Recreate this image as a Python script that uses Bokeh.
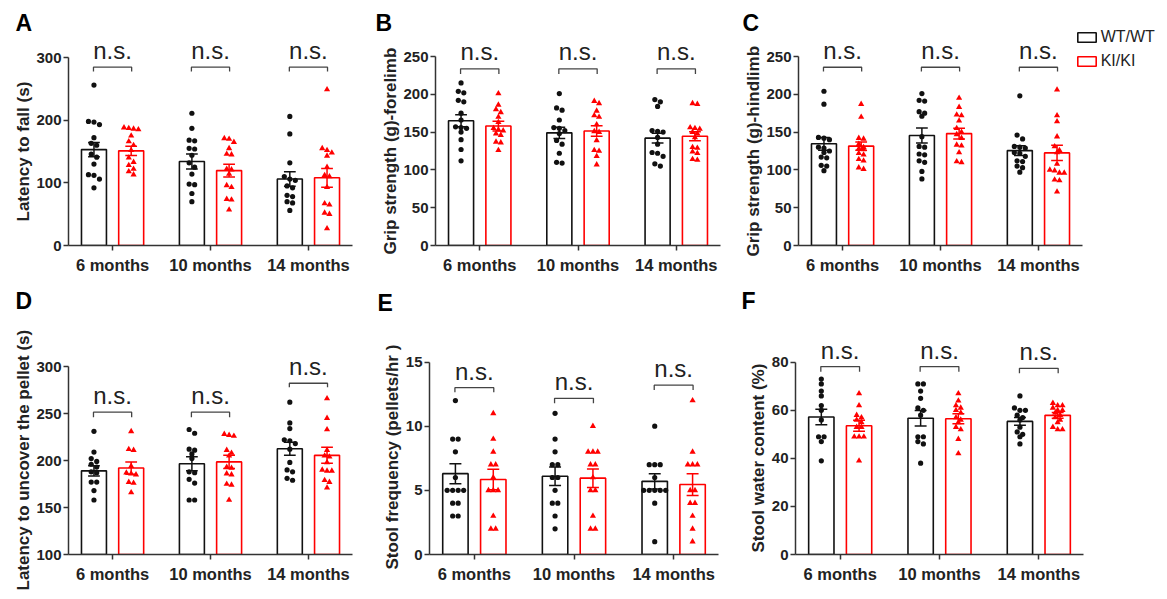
import numpy as np
from bokeh.plotting import figure
from bokeh.layouts import row, column
from bokeh.models import FixedTicker, Label, Legend, LegendItem, Range1d, Title
from bokeh.embed import file_html
from bokeh.resources import INLINE

# ---------------- data ----------------
groups = ["6 months", "10 months", "14 months"]
genotypes = ["WT/WT", "KI/KI"]

# A  Latency to fall (s)
a_ylabel = "Latency to fall (s)"
a_ticks = [0, 100, 200, 300]
a_wt = [[256, 198, 197, 193, 172, 163, 160, 146, 141, 130, 113, 112, 106, 92],
        [211, 187, 168, 167, 155, 154, 144, 132, 125, 114, 98, 97, 83, 70],
        [206, 178, 132, 110, 106, 104, 95, 92, 80, 78, 70, 68, 56]]
a_ki = [[188, 187, 186, 185, 175, 166, 160, 152, 140, 133, 128, 122, 118, 113],
        [171, 170, 165, 155, 146, 145, 122, 121, 114, 96, 93, 74, 73, 57],
        [249, 155, 152, 148, 143, 125, 112, 110, 93, 67, 65, 52, 50, 27]]
a_wt_mean = [153, 134, 106]
a_wt_sem = [11.5, 12, 11.5]
a_ki_mean = [151, 119.5, 108]
a_ki_sem = [7.5, 10, 15]

# B  Grip strength forelimb
b_ylabel = "Grip strength (g)-forelimb"
b_ticks = [0, 50, 100, 150, 200, 250]
b_wt = [[215, 204, 202, 192, 190, 175, 166, 157, 156, 155, 150, 140, 127, 112],
        [201, 182, 179, 166, 156, 155, 152, 148, 139, 134, 122, 110, 109],
        [193, 190, 184, 152, 151, 150, 143, 134, 123, 122, 118, 108, 105]]
b_ki = [[201, 186, 180, 176, 170, 163, 155, 153, 152, 148, 146, 137, 136, 126],
        [191, 188, 178, 172, 170, 160, 151, 150, 139, 126, 125, 118, 107],
        [188, 187, 156, 155, 154, 150, 148, 143, 130, 129, 124, 122, 114, 113]]
b_wt_mean = [165, 149, 142]
b_wt_sem = [8, 7.5, 6.5]
b_ki_mean = [158, 151.5, 144.5]
b_ki_sem = [6.5, 7, 6]

# C  Grip strength hindlimb
c_ylabel = "Grip strength (g)-hindlimb"
c_ticks = [0, 50, 100, 150, 200, 250]
c_wt = [[204, 187, 143, 142, 140, 130, 129, 125, 123, 117, 116, 106, 105, 99],
        [201, 192, 191, 177, 175, 171, 144, 131, 130, 121, 120, 112, 110, 98, 88],
        [198, 146, 141, 131, 130, 129, 123, 122, 118, 112, 111, 105, 103, 97]]
c_ki = [[187, 170, 142, 141, 134, 130, 128, 127, 122, 120, 114, 112, 103, 101],
        [195, 183, 173, 172, 165, 155, 150, 147, 142, 133, 132, 123, 111, 110],
        [206, 172, 164, 144, 131, 126, 123, 108, 100, 99, 96, 96, 87, 86, 71]]
c_wt_mean = [134.5, 145.5, 125.5]
c_wt_sem = [8.5, 10, 6.5]
c_ki_mean = [131.5, 148, 122.5]
c_ki_sem = [5.5, 7, 10]

# D  Latency to uncover the pellet (s)
d_ylabel = "Latency to uncover the pellet (s)"
d_ticks = [100, 150, 200, 250, 300]
d_wt = [[231, 209, 202, 199, 196, 193, 188, 187, 177, 177, 168, 158],
        [233, 229, 212, 211, 207, 202, 188, 187, 180, 176, 158, 158],
        [262, 240, 234, 222, 221, 218, 212, 198, 190, 188, 181, 179]]
d_ki = [[231, 212, 211, 194, 187, 186, 185, 177, 176, 166],
        [228, 227, 226, 211, 208, 205, 193, 192, 186, 185, 175, 174, 158],
        [266, 245, 233, 211, 205, 204, 198, 190, 189, 189, 179, 177, 171]]
d_wt_mean = [189, 196.5, 212.5]
d_wt_sem = [5.5, 7.5, 7]
d_ki_mean = [192, 198.5, 205.5]
d_ki_sem = [6.5, 7, 8.5]

# E  Stool frequency
e_ylabel = "Stool frequency (pellets/hr )"
e_ticks = [0, 5, 10, 15]
e_wt = [[12, 9, 9, 8, 6, 5, 5, 5, 5, 4, 4, 3, 3],
        [11, 9, 8, 7, 7, 6, 6, 5, 4, 4, 3, 2],
        [10, 7, 7, 7, 6, 5, 5, 5, 5, 5, 4, 1]]
e_ki = [[11, 9, 8, 7, 7, 6, 5, 5, 5, 3, 2, 2],
        [10, 8, 8, 8, 7, 7, 6, 5, 5, 3, 2, 2],
        [12, 8, 7, 7, 7, 5, 5, 4, 4, 3, 2, 1]]
e_wt_mean = [6.3, 6.1, 5.7]
e_wt_sem = [0.78, 0.72, 0.6]
e_ki_mean = [5.85, 5.95, 5.45]
e_ki_sem = [0.8, 0.72, 0.85]

# F  Stool water content (%)
f_ylabel = "Stool water content (%)"
f_ticks = [0, 20, 40, 60, 80]
f_wt = [[73, 71, 68, 66, 62, 60, 56, 49, 49, 47, 39],
        [71, 71, 68, 65, 61, 60, 58, 49, 49, 47, 46, 38],
        [66, 61, 60, 60, 58, 57, 56, 53, 51, 50, 49, 46]]
f_ki = [[67, 62, 58, 57, 56, 55, 53, 53, 49, 49, 49, 39],
        [67, 64, 62, 61, 60, 59, 57, 56, 55, 53, 52, 48, 42],
        [63, 62, 62, 61, 60, 60, 59, 58, 57, 56, 55, 53, 52, 52]]
f_wt_mean = [57.2, 56.7, 55.4]
f_wt_sem = [3.2, 3.2, 1.6]
f_ki_mean = [53.6, 56.5, 57.9]
f_ki_sem = [2.3, 2.1, 1.2]

# ---------------- style / layout ----------------
FONT = "Liberation Sans"
INK = "#222222"
AXIS = "#333333"
WT_COLOR = "#111111"
KI_COLOR = "#ff0000"
X_START, X_AXIS_END = -0.45, 2.45
BAR_W = 0.255
OFF = 0.19
CAP = 0.06
BR_HALF = 0.195
NS_SIZE = 24          # px
NS_MID = 0.3465 * NS_SIZE  # baseline -> middle of text box

# geometry in page pixels:
# fig (left, right, top, bottom), frame_left, axis_right, frame_top, frame_bottom, axis_top,
# letter x / baseline, y-label start (bottom end), brackets per group (line, tick end, text baseline)
specs = {
    "A": dict(fig=(0, 370, 0, 284), frame_left=68, axis_right=352, frame_top=26, frame_bottom=245,
              axis_top=57, letter=(15, 30), label_start=221,
              brackets=[(284.5, 277.6, 298)] * 3),
    "B": dict(fig=(370, 740, 0, 284), frame_left=435, axis_right=720, frame_top=26, frame_bottom=245,
              axis_top=56, letter=(375, 30), label_start=254,
              brackets=[(233.7, 227, 245.5)] * 3),
    "C": dict(fig=(740, 1165, 0, 284), frame_left=798, axis_right=1082, frame_top=26, frame_bottom=245,
              axis_top=56, letter=(742, 30), label_start=256, legend=True,
              brackets=[(235.8, 230, 247.5)] * 3),
    "D": dict(fig=(0, 370, 284, 591), frame_left=68, axis_right=352, frame_top=305, frame_bottom=554,
              axis_top=366, letter=(15, 308), label_start=590,
              brackets=[(251.4, 246.1, 260.4), (251.4, 246.1, 260.4), (282.2, 278, 291)]),
    "E": dict(fig=(370, 740, 284, 591), frame_left=429, axis_right=718, frame_top=305, frame_bottom=556,
              axis_top=362, letter=(377, 310), label_start=571,
              brackets=[(13.0, 12.64, 13.64), (12.17, 11.79, 12.82), (13.2, 12.82, 13.85)]),
    "F": dict(fig=(740, 1165, 284, 591), frame_left=795, axis_right=1083, frame_top=305, frame_bottom=555,
              axis_top=362, letter=(741, 308), label_start=553,
              brackets=[(78.2, 76.1, 81.6), (78.2, 76.1, 81.6), (77.5, 75.4, 81.2)]),
}
# legend: left edge of glyph area and bottom of the legend block (page pixels)
LEGEND_LEFT, LEGEND_BOTTOM = 1074.7, 70.3


def swarm(vals, py, sx, d_px, thr_px):
    vals = np.asarray(vals, float)
    order = np.argsort(-vals, kind="stable")
    offs = np.zeros(len(vals))
    clusters, cur = [], []
    for i in order:
        if cur and (vals[cur[0]] - vals[i]) * py >= thr_px:
            clusters.append(cur)
            cur = []
        cur.append(i)
    if cur:
        clusters.append(cur)
    for cl in clusters:
        n = len(cl)
        for k, i in enumerate(cl):
            offs[i] = (k - (n - 1) / 2) * d_px / sx
    return offs


def build(letter, ylabel, yticks, wt, ki, wt_mean, wt_sem, ki_mean, ki_sem):
    s = specs[letter]
    fl, fr, ft, fb = s["fig"]
    w, h = fr - fl, fb - ft
    y0, ytop = yticks[0], yticks[-1]
    sx = (s["axis_right"] - s["frame_left"]) / (X_AXIS_END - X_START)
    py = (s["frame_bottom"] - s["axis_top"]) / (ytop - y0)
    border_r = 0 if s.get("legend") else fr - s["axis_right"]
    frame_right = fr - border_r
    x_end = X_START + (frame_right - s["frame_left"]) / sx
    y_end = y0 + (s["frame_bottom"] - s["frame_top"]) / py

    p = figure(width=w, height=h, x_range=Range1d(X_START, x_end), y_range=Range1d(y0, y_end),
               output_backend="svg", toolbar_location=None,
               min_border_left=s["frame_left"] - fl, min_border_right=border_r,
               min_border_top=s["frame_top"] - ft, min_border_bottom=fb - s["frame_bottom"])
    p.outline_line_color = None
    p.xgrid.grid_line_color = None
    p.ygrid.grid_line_color = None

    centers = np.arange(len(groups), dtype=float)
    renderers = []
    for pts, mean, sem, off, color, marker, size, dpx in [
        (wt, wt_mean, wt_sem, -OFF, WT_COLOR, "circle", 5.2, 5.5),
        (ki, ki_mean, ki_sem, OFF, KI_COLOR, "triangle", 6.2, 4.8),
    ]:
        xs = centers + off
        mean = np.asarray(mean, float)
        sem = np.asarray(sem, float)
        r = p.vbar(x=xs, top=mean, bottom=y0, width=BAR_W, fill_color="white",
                   line_color=color, line_width=1.6)
        renderers.append(r)
        p.segment(x0=xs, y0=mean - sem, x1=xs, y1=mean + sem, line_color=color, line_width=1.5)
        p.segment(x0=xs - CAP, y0=mean + sem, x1=xs + CAP, y1=mean + sem, line_color=color, line_width=1.5)
        p.segment(x0=xs - CAP, y0=mean - sem, x1=xs + CAP, y1=mean - sem, line_color=color, line_width=1.5)
        px_all, py_all = [], []
        for g in range(len(groups)):
            vals = np.asarray(pts[g], float)
            dx = swarm(vals, py, sx, dpx, 4.5)
            px_all.extend(xs[g] + dx)
            py_all.extend(vals)
        p.scatter(x=px_all, y=py_all, marker=marker, size=size, fill_color=color, line_color=None)

    # significance brackets
    bxs, bys = [], []
    for g, (yb, yt, ytxt) in enumerate(s["brackets"]):
        bxs.append([g - BR_HALF, g - BR_HALF, g + BR_HALF, g + BR_HALF])
        bys.append([yt, yb, yb, yt])
        p.add_layout(Label(x=g, y=ytxt + NS_MID / py, text="n.s.", text_font=FONT,
                           text_font_size=f"{NS_SIZE}px", text_align="center",
                           text_baseline="middle", text_color=INK))
    p.multi_line(xs=bxs, ys=bys, line_color="#444444", line_width=1.3)

    # panel letter (title above; anchored at its bottom edge)
    lx, lbase = s["letter"]
    p.title.text = letter
    p.title.align = "left"
    p.title.offset = lx - s["frame_left"]
    p.title.vertical_align = "bottom"
    p.title.standoff = 2 * (s["frame_top"] - (lbase + 5))
    p.title.text_font = FONT
    p.title.text_font_size = "23px"
    p.title.text_font_style = "bold"
    p.title.text_color = "black"

    # y label (title on the left side)
    p.add_layout(Title(text=ylabel, align="left", offset=s["frame_bottom"] - s["label_start"],
                       vertical_align="bottom", standoff=2, text_font=FONT, text_font_size="17px",
                       text_font_style="bold", text_color=INK), "left")

    # axes
    for ax in (p.xaxis, p.yaxis):
        ax.axis_line_color = AXIS
        ax.axis_line_width = 1.5
        ax.major_tick_line_color = AXIS
        ax.major_tick_line_width = 1.5
        ax.major_tick_in = 0
        ax.major_tick_out = 5
        ax.minor_tick_line_color = None
        ax.major_label_text_font = FONT
        ax.major_label_text_font_style = "bold"
        ax.major_label_text_color = INK
    p.xaxis.ticker = FixedTicker(ticks=list(range(len(groups))))
    p.xaxis.major_label_overrides = {i: gname for i, gname in enumerate(groups)}
    p.xaxis.major_label_text_font_size = "16.5px"
    p.xaxis.major_label_standoff = 5
    p.xaxis.bounds = (X_START, X_AXIS_END)
    p.yaxis.ticker = FixedTicker(ticks=yticks)
    p.yaxis.major_label_text_font_size = "15px"
    p.yaxis.major_label_standoff = 2
    p.yaxis.bounds = (y0, ytop)

    if s.get("legend"):
        lg = Legend(items=[LegendItem(label=genotypes[0], renderers=[renderers[0]]),
                           LegendItem(label=genotypes[1], renderers=[renderers[1]])],
                    location=(LEGEND_LEFT - s["frame_left"], s["frame_bottom"] - LEGEND_BOTTOM),
                    orientation="vertical",
                    border_line_color=None, background_fill_alpha=0, padding=0, margin=0,
                    spacing=6, label_standoff=3, glyph_width=23, glyph_height=12,
                    label_height=18, label_text_font=FONT, label_text_font_size="16px",
                    label_text_color=INK)
        p.add_layout(lg)
    return p


pA = build("A", a_ylabel, a_ticks, a_wt, a_ki, a_wt_mean, a_wt_sem, a_ki_mean, a_ki_sem)
pB = build("B", b_ylabel, b_ticks, b_wt, b_ki, b_wt_mean, b_wt_sem, b_ki_mean, b_ki_sem)
pC = build("C", c_ylabel, c_ticks, c_wt, c_ki, c_wt_mean, c_wt_sem, c_ki_mean, c_ki_sem)
pD = build("D", d_ylabel, d_ticks, d_wt, d_ki, d_wt_mean, d_wt_sem, d_ki_mean, d_ki_sem)
pE = build("E", e_ylabel, e_ticks, e_wt, e_ki, e_wt_mean, e_wt_sem, e_ki_mean, e_ki_sem)
pF = build("F", f_ylabel, f_ticks, f_wt, f_ki, f_wt_mean, f_wt_sem, f_ki_mean, f_ki_sem)

layout = column(row(pA, pB, pC, spacing=0), row(pD, pE, pF, spacing=0), spacing=0)
open("out.html", "w").write(file_html(layout, INLINE))
